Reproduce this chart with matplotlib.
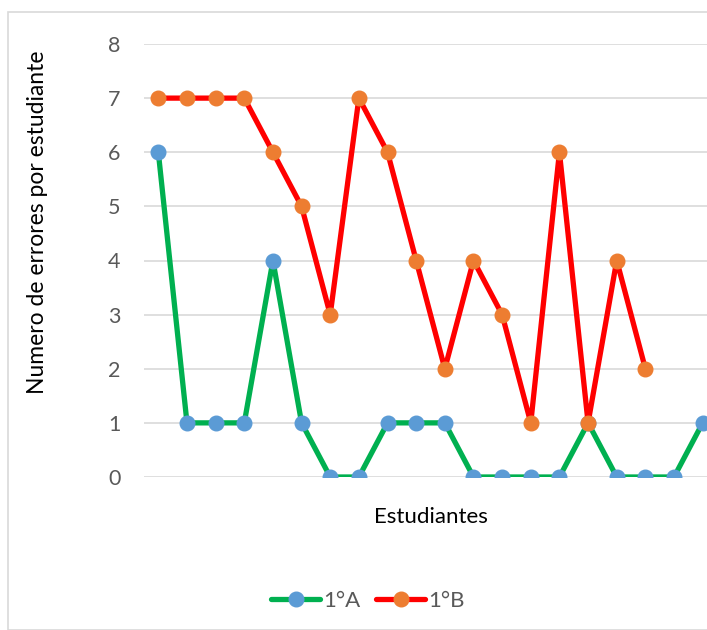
import matplotlib
matplotlib.use("Agg")
import matplotlib.pyplot as plt
from matplotlib.patches import Rectangle

plt.rcParams['font.family'] = ['Lato', 'DejaVu Sans']

# Errors per student for each group
errores_1A = [6, 1, 1, 1, 4, 1, 0, 0, 1, 1, 1, 0, 0, 0, 0, 1, 0, 0, 0, 1]
errores_1B = [7, 7, 7, 7, 6, 5, 3, 7, 6, 4, 2, 4, 3, 1, 6, 1, 4, 2]
y_ticks = [0, 1, 2, 3, 4, 5, 6, 7, 8]
series_names = ['1°A', '1°B']

W, H = 707, 630
fig = plt.figure(figsize=(W / 100, H / 100), dpi=100)

# chart area frame
fig.patches.append(Rectangle((8 / W, 0), 1.2, (H - 12) / H, transform=fig.transFigure,
                             fill=False, edgecolor='#D9D9D9', linewidth=1.2))

ax = fig.add_axes([144 / W, 1 - 477 / H, (W - 144) / W, (477 - 44) / H])
ax.set_ylim(0, 8)
spacing = 28.65
ax.set_xlim(-0.5, -0.5 + (W - 144) / spacing)

ax.set_yticks(y_ticks)
ax.set_yticklabels([str(v) for v in y_ticks], fontsize=15.5, color='#595959')
ax.tick_params(axis='y', length=0, pad=17)
ax.set_xticks([])
ax.grid(axis='y', color='#D9D9D9', linewidth=1.2)
ax.set_axisbelow(True)
for s in ax.spines.values():
    s.set_visible(False)

xA = list(range(len(errores_1A)))
xB = list(range(len(errores_1B)))
la, = ax.plot(xA, errores_1A, color='#00B050', linewidth=3.8, marker='o', markersize=10.5,
              markerfacecolor='#5B9BD5', markeredgecolor='#5B9BD5', label=series_names[0],
              solid_joinstyle='round', solid_capstyle='round', zorder=3)
lb, = ax.plot(xB, errores_1B, color='#FF0000', linewidth=3.8, marker='o', markersize=10.5,
              markerfacecolor='#ED7D31', markeredgecolor='#ED7D31', label=series_names[1],
              solid_joinstyle='round', solid_capstyle='round', zorder=4)

fig.text(38 / W, 1 - 222 / H, 'Numero de errores por estudiante', rotation=90,
         ha='center', va='center', fontsize=16.5, color='black')
fig.text(431 / W, 1 - 517 / H, 'Estudiantes', ha='center', va='center',
         fontsize=16, color='black')

leg = fig.legend(handles=[la, lb], loc='center', bbox_to_anchor=(368 / W, 1 - 601 / H),
                 ncol=2, frameon=False, fontsize=16, handlelength=2.2,
                 columnspacing=0.7, handletextpad=0.15)
for t in leg.get_texts():
    t.set_color('#595959')

fig.savefig('out.png', dpi=100)
